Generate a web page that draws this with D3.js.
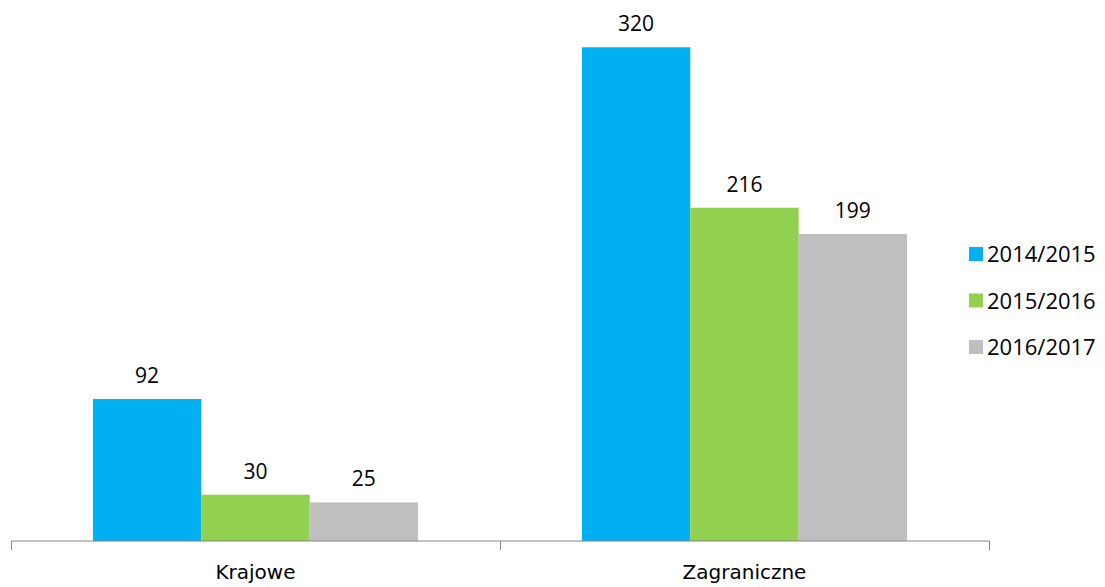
<!DOCTYPE html>
<html>
<head>
<meta charset="utf-8">
<script src="https://cdn.jsdelivr.net/npm/d3@7"></script>
<style>
body { margin: 0; background: #fff; }
text { font-family: "Open Sans", sans-serif; fill: #000; }
</style>
</head>
<body>
<div id="chart"></div>
<script>
const width = 1105,
height = 587,
margin = {top: 1, right: 116, bottom: 46, left: 11};

const categories = ["Krajowe", "Zagraniczne"];
const seasons = ["2014/2015", "2015/2016", "2016/2017"];
const values2014 = [92, 320];
const values2015 = [30, 216];
const values2016 = [25, 199];
const colors = ["#00B0F0", "#92D050", "#BFBFBF"];

const data = categories.map((c, i) => ({
  group: c,
  "2014/2015": values2014[i],
  "2015/2016": values2015[i],
  "2016/2017": values2016[i]
}));

const svg = d3.select("#chart")
.append("svg")
.attr("width", width)
.attr("height", height);

let x = d3.scaleBand(categories, [margin.left, width - margin.right])
.paddingInner(0)
.paddingOuter(0);

let xs = d3.scaleBand(seasons, [0, x.bandwidth()])
.paddingInner(0)
.paddingOuter(0.756);

let y = d3.scaleLinear([0, 350], [height - margin.bottom, margin.top]);

const color = d3.scaleOrdinal(seasons, colors);

// bars
const groups = svg.append("g")
.selectAll("g")
.data(data)
.join("g")
.attr("transform", d => `translate(${x(d.group)},0)`);

groups.selectAll("rect")
.data(d => seasons.map(k => ({key: k, value: d[k]})))
.join("rect")
.attr("x", d => xs(d.key))
.attr("y", d => y(d.value))
.attr("width", xs.bandwidth())
.attr("height", d => y(0) - y(d.value))
.attr("fill", d => color(d.key));

groups.selectAll("text")
.data(d => seasons.map(k => ({key: k, value: d[k]})))
.join("text")
.attr("x", d => xs(d.key) + xs.bandwidth() / 2)
.attr("y", d => y(d.value) - 16)
.attr("text-anchor", "middle")
.style("font-size", "21px")
.text(d => d.value);

// axis
const axis = svg.append("g")
.attr("transform", `translate(0,${y(0)})`)
.call(d3.axisBottom(x).tickSize(0).tickPadding(24));
axis.select(".domain").attr("stroke", "#868686").attr("d", `M${margin.left + 0.5},0H${width - margin.right + 0.5}`);
axis.selectAll(".tick text")
.style("font-size", "20px")
.style("font-family", "'DejaVu Sans', sans-serif")
.attr("fill", "#000");

const bounds = categories.map(c => x(c)).concat([x(categories[categories.length - 1]) + x.bandwidth()]);
axis.selectAll(".sep")
.data(bounds)
.join("line")
.attr("class", "sep")
.attr("x1", d => Math.round(d) + 0.5)
.attr("x2", d => Math.round(d) + 0.5)
.attr("y1", 0)
.attr("y2", 9)
.attr("stroke", "#868686");

// legend
let legendGroup = svg
.selectAll(".legend-group")
.data(seasons)
.join("g")
.attr("class", "legend-group")
.attr("transform", (d, i) => `translate(969,${254 + i * 46.5})`);

legendGroup
.append("rect")
.attr("x", 0)
.attr("y", -7)
.attr("width", 14)
.attr("height", 14)
.attr("fill", d => color(d));

legendGroup
.append("text")
.attr("x", 18)
.attr("y", 8)
.style("font-size", "22px")
.text(d => d);
</script>
</body>
</html>
